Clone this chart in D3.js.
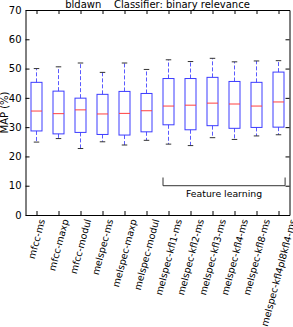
<!DOCTYPE html>
<html>
<head>
<meta charset="utf-8">
<script src="https://cdn.jsdelivr.net/npm/d3@7"></script>
<style>
    body { margin: 0; background: #fff; }
    svg { display: block; }
    text { font-family: "DejaVu Sans", sans-serif; fill: #000; }
</style>
</head>
<body>
<div id="chart"></div>
<script>

// box plot data, MAP (%) per feature set
var categories = ["mfcc-ms", "mfcc-maxp", "mfcc-modul", "melspec-ms", "melspec-maxp", "melspec-modul",
    "melspec-kfl1-ms", "melspec-kfl2-ms", "melspec-kfl3-ms", "melspec-kfl4-ms", "melspec-kfl8-ms",
    "melspec-kfl4pl8kfl4-ms"];
var whiskerHigh = [50.0, 50.6, 51.9, 48.7, 51.9, 49.7, 53.0, 52.4, 53.5, 52.3, 52.6, 52.7];
var q3 = [45.3, 42.3, 39.9, 41.2, 42.2, 41.5, 46.6, 46.6, 47.0, 45.6, 45.3, 48.8];
var medians = [35.5, 34.6, 35.9, 34.5, 34.7, 35.6, 37.2, 37.5, 38.2, 37.9, 37.2, 38.6];
var q1 = [28.7, 27.7, 28.2, 27.5, 27.3, 28.4, 30.8, 29.1, 30.5, 29.6, 29.9, 30.0];
var whiskerLow = [24.9, 26.1, 22.7, 25.0, 23.9, 25.5, 24.2, 23.7, 26.4, 25.8, 27.0, 27.4];
var yTicks = [0, 10, 20, 30, 40, 50, 60, 70];

// bracket for the feature learning group (x in box positions, y in MAP)
var groupLabel = "Feature learning";
var groupFrom = 6.75, groupTo = 12.3;
var groupY = 10, groupTop = 12.8;

var titleText = "bldawn    Classifier: binary relevance";

var W = 293, H = 327;
var margin = {top: 10, right: 3.5, bottom: 112, left: 25.5},
    width = W - margin.left - margin.right,
    height = H - margin.top - margin.bottom;

var svg = d3.select("#chart").append("svg")
    .attr("width", W)
    .attr("height", H);

var g = svg.append("g")
    .attr("transform", "translate(" + margin.left + "," + margin.top + ")");

// positions 1..12 like matplotlib boxplot
var x = d3.scaleLinear().domain([0.5, categories.length + 0.5]).range([0, width]);
var y = d3.scaleLinear().domain([0, 70]).range([height, 0]);
var positions = categories.map(function(d, i) { return i + 1; });

var boxW = x(0.25) - x(0);   // half width
var capW = x(0.125) - x(0);

var boxes = g.selectAll(".box")
    .data(positions)
    .enter().append("g")
    .attr("class", "box");

// whiskers
boxes.append("line")
    .attr("x1", function(d) { return x(d); })
    .attr("x2", function(d) { return x(d); })
    .attr("y1", function(d, i) { return y(q3[i]); })
    .attr("y2", function(d, i) { return y(whiskerHigh[i]); })
    .attr("stroke", "#5a5aff")
    .attr("stroke-dasharray", "4,2");
boxes.append("line")
    .attr("x1", function(d) { return x(d); })
    .attr("x2", function(d) { return x(d); })
    .attr("y1", function(d, i) { return y(q1[i]); })
    .attr("y2", function(d, i) { return y(whiskerLow[i]); })
    .attr("stroke", "#5a5aff")
    .attr("stroke-dasharray", "4,2");

// caps
boxes.append("line")
    .attr("x1", function(d) { return x(d) - capW; })
    .attr("x2", function(d) { return x(d) + capW; })
    .attr("y1", function(d, i) { return y(whiskerHigh[i]); })
    .attr("y2", function(d, i) { return y(whiskerHigh[i]); })
    .attr("stroke", "#333");
boxes.append("line")
    .attr("x1", function(d) { return x(d) - capW; })
    .attr("x2", function(d) { return x(d) + capW; })
    .attr("y1", function(d, i) { return y(whiskerLow[i]); })
    .attr("y2", function(d, i) { return y(whiskerLow[i]); })
    .attr("stroke", "#333");

// boxes
boxes.append("rect")
    .attr("x", function(d) { return x(d) - boxW; })
    .attr("width", boxW * 2)
    .attr("y", function(d, i) { return y(q3[i]); })
    .attr("height", function(d, i) { return y(q1[i]) - y(q3[i]); })
    .attr("fill", "none")
    .attr("stroke", "#3c3cff");

// medians
boxes.append("line")
    .attr("x1", function(d) { return x(d) - boxW; })
    .attr("x2", function(d) { return x(d) + boxW; })
    .attr("y1", function(d, i) { return y(medians[i]); })
    .attr("y2", function(d, i) { return y(medians[i]); })
    .attr("stroke", "#ff4040");

// axes, ticks inward on all four sides
g.append("g")
    .call(d3.axisLeft(y).tickValues(yTicks).tickSizeInner(-4).tickSizeOuter(0).tickPadding(4))
    .call(function(a) { a.selectAll("text").style("font-size", "10px").style("font-family", "DejaVu Sans"); });
g.append("g")
    .attr("transform", "translate(" + width + ",0)")
    .call(d3.axisRight(y).tickValues(yTicks).tickSizeInner(-4).tickSizeOuter(0).tickFormat(""));
g.append("g")
    .call(d3.axisTop(x).tickValues(positions).tickSizeInner(-4).tickSizeOuter(0).tickFormat(""));
var xAxis = g.append("g")
    .attr("transform", "translate(0," + height + ")")
    .call(d3.axisBottom(x).tickValues(positions).tickSizeInner(-4).tickSizeOuter(0).tickFormat(""));

// rotated category labels, bbox centred under the tick
var rot = 75 * Math.PI / 180, fs = 9.5;
xAxis.selectAll(".cat")
    .data(categories)
    .enter().append("text")
    .attr("class", "cat")
    .style("font-size", fs + "px")
    .attr("text-anchor", "middle")
    .attr("dominant-baseline", "central")
    .text(function(d) { return d; })
    .attr("transform", function(d, i) {
        var L = this.getComputedTextLength();
        var bh = L * Math.sin(rot) + fs * Math.cos(rot);
        return "translate(" + x(i + 1) + "," + (3 + bh / 2) + ") rotate(-75)";
    });

// feature learning bracket
g.append("path")
    .attr("d", "M" + x(groupFrom) + "," + y(groupTop) + "V" + y(groupY) + "H" + x(groupTo) + "V" + y(groupTop))
    .attr("fill", "none")
    .attr("stroke", "#333");
g.append("text")
    .attr("x", (x(groupFrom) + x(groupTo)) / 2)
    .attr("y", y(groupY) + 11)
    .attr("text-anchor", "middle")
    .style("font-size", "9.3px")
    .text(groupLabel);

// y label
g.append("text")
    .attr("transform", "translate(" + (-margin.left + 8) + "," + (height / 2) + ") rotate(-90)")
    .attr("text-anchor", "middle")
    .style("font-size", "10px")
    .text("MAP (%)");

// title
svg.append("text")
    .attr("x", margin.left + width / 2)
    .attr("y", 7.5)
    .attr("text-anchor", "middle")
    .attr("xml:space", "preserve")
    .style("white-space", "pre")
    .style("font-size", "10px")
    .text(titleText);

</script>
</body>
</html>
